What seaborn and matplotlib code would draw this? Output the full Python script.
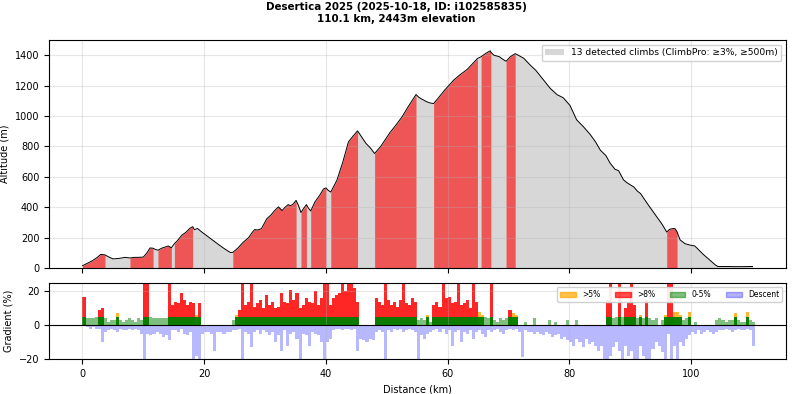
import numpy as np
import matplotlib
matplotlib.use("Agg")
import matplotlib.pyplot as plt
import seaborn as sns
from matplotlib.patches import Patch

# elevation profile (km, m)
dist_km = [0.0, 0.5, 1.0, 1.5, 2.0, 2.5, 3.0, 3.3, 3.7, 4.2, 5.0, 6.0, 7.0, 7.8, 8.5, 9.2,
           10.0, 10.6, 11.1, 11.6, 12.0, 12.4, 13.0, 13.6, 14.1, 14.6, 15.1, 15.6, 16.3, 17.0,
           17.6, 18.1, 18.4, 18.9, 19.5, 20.5, 21.5, 22.5, 23.5, 24.3, 24.7, 25.5, 26.4, 27.3,
           28.0, 28.3, 28.8, 29.4, 30.3, 31.0, 31.5, 32.2, 32.8, 33.3, 33.8, 34.2, 34.6, 35.1,
           35.5, 35.9, 36.3, 36.8, 37.1, 37.5, 38.2, 39.0, 39.6, 40.0, 40.4, 40.8, 41.8, 42.8,
           43.7, 44.3, 45.2, 45.9, 46.6, 47.3, 48.0, 49.0, 49.7, 50.5, 51.5, 52.5, 53.5, 54.8,
           55.3, 55.8, 56.6, 57.2, 57.7, 58.5, 59.5, 61.0, 62.0, 63.2, 64.0, 64.9, 65.5, 66.2,
           67.0, 67.1, 67.6, 68.5, 69.0, 69.6, 70.3, 71.1, 71.6, 72.5, 73.6, 74.5, 75.5, 76.9,
           78.0, 79.0, 80.1, 81.2, 82.3, 83.4, 84.3, 85.1, 86.0, 86.7, 87.5, 88.1, 88.9, 89.5,
           90.6, 91.2, 91.7, 92.8, 93.6, 94.4, 95.2, 96.0, 96.5, 97.1, 97.4, 97.7, 98.2, 99.0,
           99.9, 100.6, 101.0, 102.0, 103.0, 104.0, 104.4, 105.5, 107.0, 108.5, 110.1]
elev_m = [15, 25, 35, 45, 58, 72, 90, 88, 86, 75, 60, 63, 70, 66, 70, 70,
          72, 100, 132, 130, 122, 117, 130, 138, 145, 133, 160, 180, 215, 235,
          260, 272, 252, 260, 240, 210, 180, 150, 122, 102, 103, 130, 169, 200,
          240, 253, 250, 259, 325, 350, 375, 402, 378, 400, 417, 410, 420, 445,
          410, 365, 390, 417, 395, 375, 435, 480, 520, 527, 510, 500, 577, 700,
          830, 860, 902, 860, 819, 790, 753, 800, 841, 890, 940, 994, 1060, 1141,
          1122, 1110, 1093, 1085, 1082, 1120, 1170, 1236, 1270, 1306, 1340, 1378, 1390, 1410,
          1429, 1420, 1400, 1390, 1375, 1360, 1390, 1410, 1400, 1380, 1334, 1300, 1250, 1180,
          1140, 1120, 1070, 975, 930, 880, 830, 775, 740, 690, 650, 640, 580, 560,
          533, 505, 490, 425, 380, 336, 290, 237, 255, 260, 258, 237, 185, 160,
          150, 145, 130, 90, 55, 20, 10, 10, 9, 9, 10]

# detected climbs (start km, end km)
climb_start = [0.0, 7.8, 12.4, 15.1, 24.7, 35.9, 37.5, 40.8, 48.0, 57.7, 65.5, 69.6, 96.0]
climb_end = [3.7, 11.6, 14.6, 18.1, 35.1, 36.8, 40.0, 45.2, 54.8, 64.9, 67.1, 71.1, 97.7]

# gradient per 0.5 km bin: steepest up / steepest down (%)
grad_step = 0.5
grad_up = [17, 4, 4, 4, 5, 9, 10, 4, 2, 3,
           3, 7, 3, 2, 3, 4, 3, 2, 4, 3,
           25, 25, 5, 4, 4, 4, 4, 4, 25, 12,
           14, 13, 19, 15, 12, 14, 13, 6, 13, 0,
           0, 0, 0, 0, 0, 0, 0, 0, 0, 3,
           6, 9, 25, 12, 14, 25, 11, 13, 15, 10,
           18, 12, 14, 10, 11, 19, 14, 13, 21, 15,
           19, 10, 12, 16, 14, 13, 20, 12, 16, 25,
           25, 12, 16, 18, 19, 25, 20, 25, 25, 22,
           14, 0, 0, 0, 0, 0, 16, 14, 12, 25,
           15, 12, 14, 11, 15, 25, 13, 12, 16, 14,
           3, 4, 3, 6, 2, 12, 14, 11, 25, 16,
           17, 13, 14, 25, 12, 13, 15, 10, 25, 14,
           8, 6, 5, 4, 25, 3, 2, 4, 3, 4,
           9, 7, 6, 0, 0, 2, 0, 0, 4, 0,
           0, 0, 0, 3, 0, 2, 0, 0, 0, 3,
           0, 0, 3, 0, 0, 0, 0, 0, 0, 0,
           0, 0, 15, 25, 4, 5, 25, 5, 10, 14,
           25, 12, 4, 6, 4, 15, 4, 3, 4, 0,
           3, 6, 25, 25, 8, 8, 6, 3, 4, 8,
           0, 2, 0, 0, 0, 0, 0, 0, 3, 4,
           3, 2, 3, 3, 7, 3, 2, 2, 8, 3,
           2]
grad_down = [0, -1, -2, -1, -2, -2, -10, -4, -3, -2,
             -3, -4, -2, -3, -3, -2, -3, -2, -3, -5,
             -20, -5, -6, -5, -4, -5, -7, -6, -9, -3,
             -3, -4, -2, -5, -6, -4, -20, -18, -20, -5,
             -4, -4, -5, -15, -4, -4, -5, -4, -4, -3,
             -3, -2, -20, -4, -5, -13, -4, -3, -5, -3,
             -4, -6, -4, -10, -6, -15, -3, -12, -5, -4,
             -8, -20, -5, -6, -12, -4, -5, -6, -10, -20,
             -10, -8, -3, -2, -2, -3, -2, -2, -3, -2,
             -15, -8, -9, -10, -8, -9, -4, -3, -4, -20,
             -3, -4, -2, -3, -2, -4, -3, -2, -3, -4,
             -20, -6, -8, -5, -4, -3, -2, -4, -2, -5,
             -3, -12, -4, -3, -10, -4, -5, -3, -8, -4,
             -3, -5, -7, -3, -4, -3, -2, -4, -5, -3,
             -2, -3, -2, -4, -19, -3, -4, -4, -5, -4,
             -5, -6, -4, -5, -7, -6, -5, -8, -7, -9,
             -10, -12, -8, -10, -13, -8, -11, -10, -12, -15,
             -12, -20, -20, -18, -13, -10, -15, -20, -12, -18,
             -15, -20, -20, -12, -18, -20, -20, -14, -10, -12,
             -16, -20, -5, -20, -12, -20, -10, -12, -8, -6,
             -4, -5, -3, -5, -4, -3, -4, -5, -4, -3,
             -3, -2, -3, -4, -3, -2, -3, -3, -2, -3,
             -12]

title = "Desertica 2025 (2025-10-18, ID: i102585835)\n110.1 km, 2443m elevation"

plt.rcParams['font.family'] = ['DejaVu Sans']
plt.rcParams['font.size'] = 7

dist = np.array(dist_km)
elev = np.array(elev_m)

fig = plt.figure(figsize=(7.92, 3.94), dpi=100)
ax1 = fig.add_axes([0.0619, 0.3198, 0.9305, 0.5787])
ax2 = fig.add_axes([0.0619, 0.0888, 0.9305, 0.1929], sharex=ax1)

# --- elevation profile ---
ax1.fill_between(dist, elev, 0, color='lightgray', alpha=0.9, lw=0,
                 label=f"{len(climb_start)} detected climbs (ClimbPro: ≥3%, ≥500m)")
for s, e in zip(climb_start, climb_end):
    mask = (dist >= s) & (dist <= e)
    ax1.fill_between(dist, elev, 0, where=mask, color='red', alpha=0.6, lw=0)
sns.lineplot(x=dist, y=elev, color='black', lw=0.7, ax=ax1, sort=False)
ax1.set_ylim(0, 1500)
ax1.set_ylabel("Altitude (m)")
ax1.grid(True, alpha=0.3)
ax1.legend(loc='upper right', fontsize=6.6, framealpha=0.9)
ax1.tick_params(labelbottom=False, labelsize=7)

# --- gradient bars ---
up = np.array(grad_up, dtype=float)
down = np.array(grad_down, dtype=float)
gx = np.arange(len(up)) * grad_step

ax2.bar(gx, np.where(up > 8, up, 0), width=grad_step, align='edge', color='red', alpha=0.85, lw=0)
ax2.bar(gx, np.where((up > 5) & (up <= 8), up, 0), width=grad_step, align='edge', color='orange', alpha=0.8, lw=0)
ax2.bar(gx, np.where(up > 5, 4.8, 0), width=grad_step, align='edge', color='green', alpha=0.95, lw=0)
ax2.bar(gx, np.where((up > 0) & (up <= 5), up, 0), width=grad_step, align='edge', color='green', alpha=0.5, lw=0)
ax2.bar(gx, down, width=grad_step, align='edge', color='blue', alpha=0.28, lw=0)
ax2.axhline(0, color='black', lw=0.8)
ax2.set_ylim(-20, 25)
ax2.set_xlim(-5.5, 115.6)
ax2.set_ylabel("Gradient (%)")
ax2.set_xlabel("Distance (km)")
ax2.grid(True, alpha=0.3)
ax2.tick_params(labelsize=7)
handles = [Patch(color='orange', alpha=0.7, label='>5%'),
           Patch(color='red', alpha=0.7, label='>8%'),
           Patch(color='green', alpha=0.5, label='0-5%'),
           Patch(color='blue', alpha=0.3, label='Descent')]
ax2.legend(handles=handles, loc='upper right', ncol=4, fontsize=5.5, framealpha=0.9)

fig.suptitle(title, fontsize=7.4, fontweight='bold', y=0.995)
fig.savefig("out.png", dpi=100)
